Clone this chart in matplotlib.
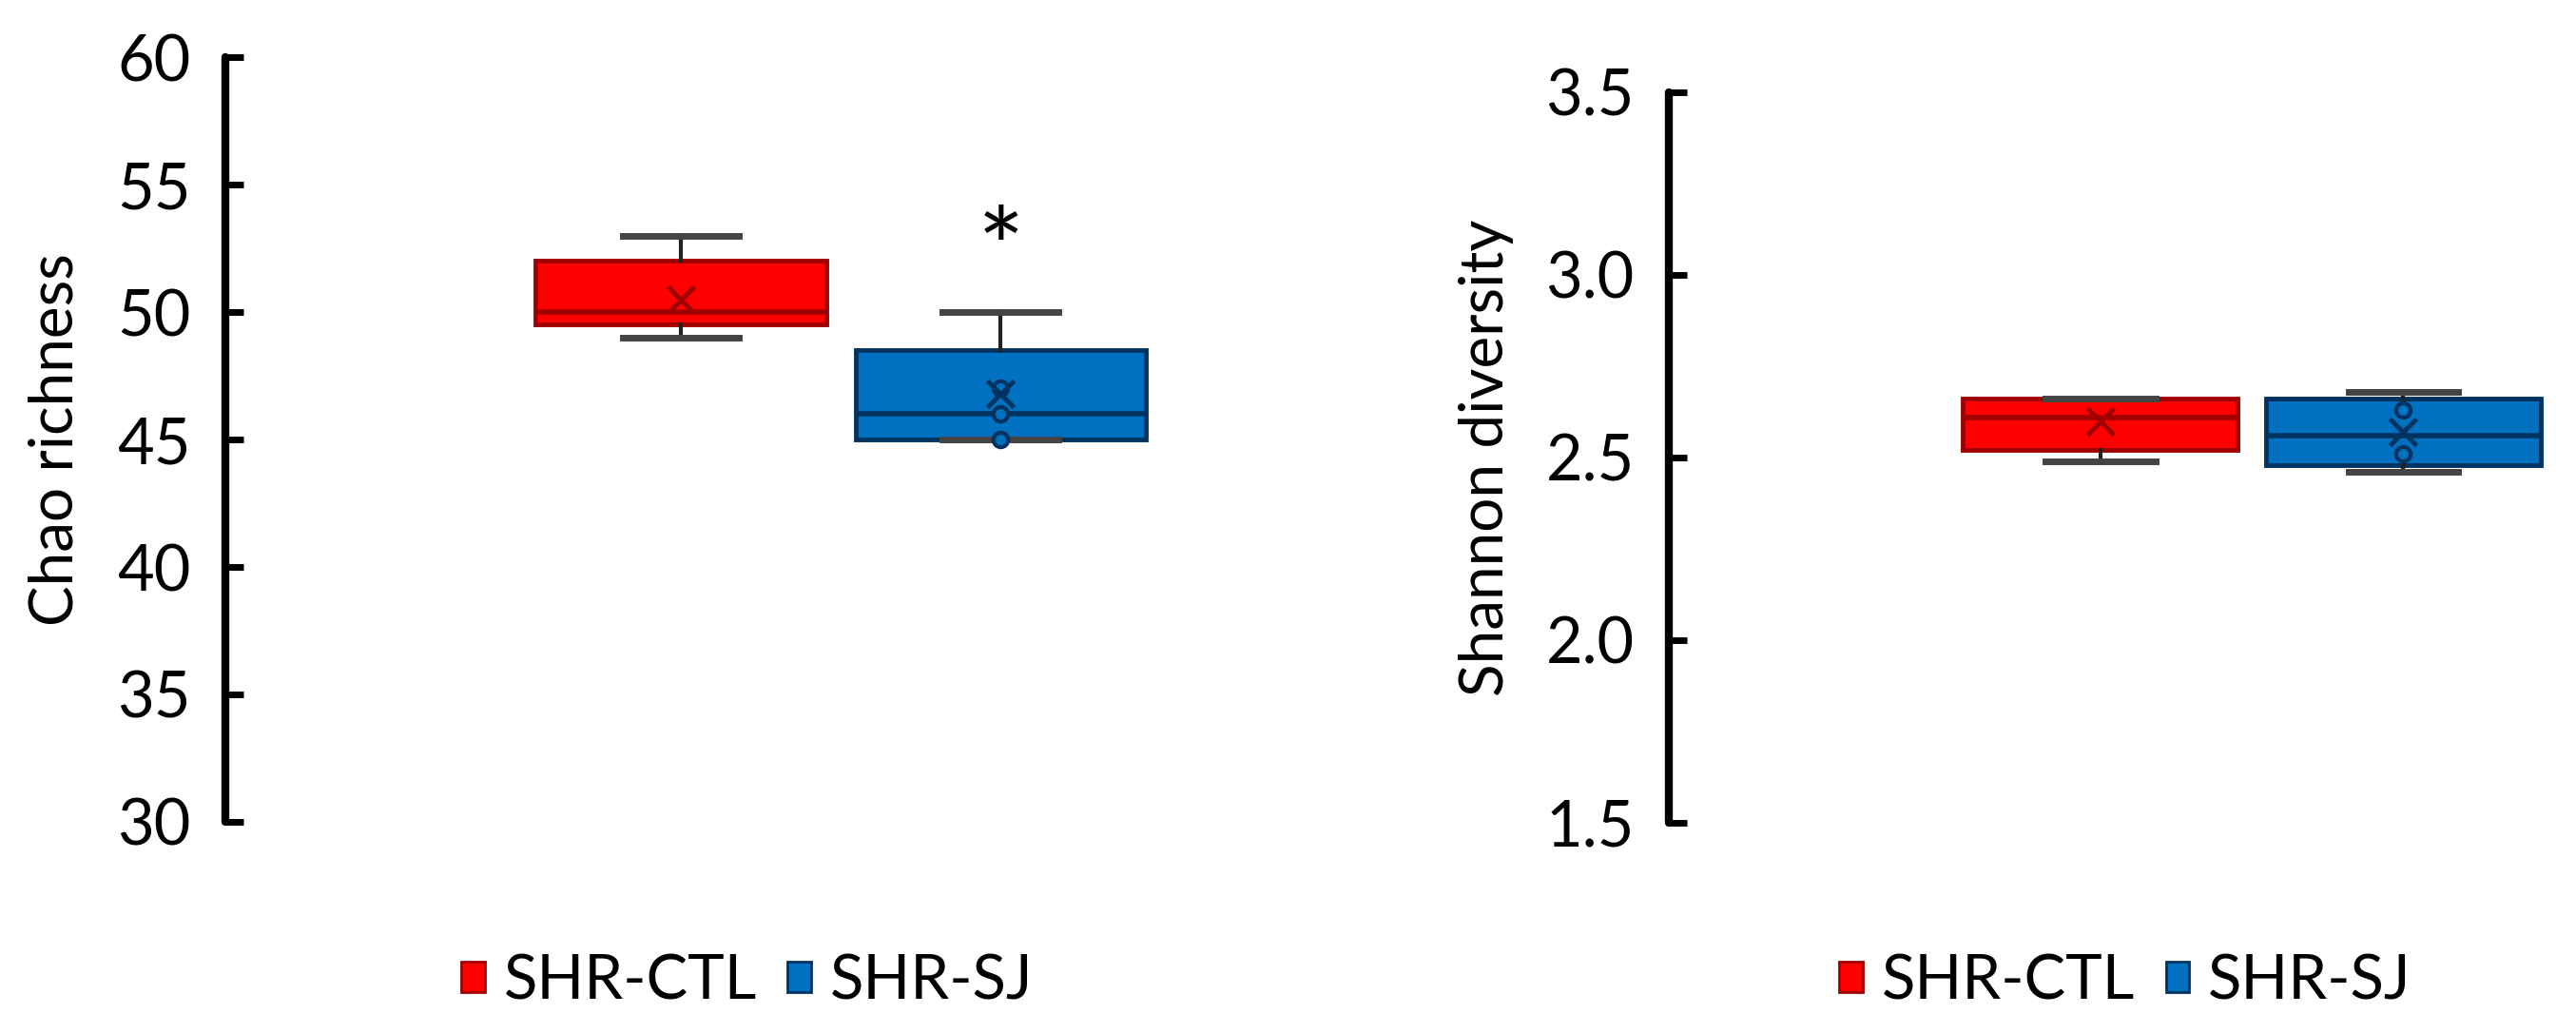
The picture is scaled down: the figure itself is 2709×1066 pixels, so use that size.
import numpy as np
import matplotlib
matplotlib.use("Agg")
import matplotlib.pyplot as plt
from matplotlib.patches import Patch

plt.rcParams['font.family'] = ['Lato', 'DejaVu Sans']

# --- DATA ---
groups = ["SHR-CTL", "SHR-SJ"]

# Chao richness: whisker low, Q1, median, Q3, whisker high, mean
chao_whislo = [49.0, 45.0]
chao_q1 = [49.5, 45.0]
chao_med = [50.0, 46.0]
chao_q3 = [52.0, 48.5]
chao_whishi = [53.0, 50.0]
chao_mean = [50.5, 46.8]
chao_points = [[], [47.0, 46.0, 45.0]]
chao_ticks = [30, 35, 40, 45, 50, 55, 60]

# Shannon diversity
shan_whislo = [2.49, 2.46]
shan_q1 = [2.52, 2.48]
shan_med = [2.61, 2.56]
shan_q3 = [2.66, 2.66]
shan_whishi = [2.66, 2.68]
shan_mean = [2.60, 2.57]
shan_points = [[], [2.63, 2.51]]
shan_ticks = [1.5, 2.0, 2.5, 3.0, 3.5]

star_label = "*"
star_y = 52.2

# --- STYLE ---
fills = ["#FF0000", "#0070C0"]
edges = ["#A00000", "#00335F"]
positions = [0.37, 0.63]
box_w = 0.236


def draw_panel(ax, whislo, q1, med, q3, whishi, mean, pts):
    for i in range(len(groups)):
        st = [dict(whislo=whislo[i], q1=q1[i], med=med[i], q3=q3[i],
                   whishi=whishi[i], fliers=[], label=groups[i])]
        ax.bxp(st, positions=[positions[i]], widths=box_w,
               capwidths=box_w * 0.4, patch_artist=True, showfliers=False,
               boxprops=dict(facecolor=fills[i], edgecolor=edges[i], linewidth=3.5),
               medianprops=dict(color=edges[i], linewidth=4),
               whiskerprops=dict(color="#222222", linewidth=3),
               capprops=dict(color="#444444", linewidth=5),
               manage_ticks=False, zorder=2)
        if pts[i]:
            ax.plot([positions[i]] * len(pts[i]), pts[i], 'o', ms=11,
                    mfc=fills[i], mec=edges[i], mew=3, zorder=4)
        ax.plot(positions[i], mean[i], 'x', ms=20, mew=3.5, color=edges[i], zorder=5)


def style_axis(ax, ticks, fmt):
    for s in ["top", "right", "bottom"]:
        ax.spines[s].set_visible(False)
    ax.spines["left"].set_linewidth(6)
    ax.spines["left"].set_capstyle("round")
    ax.set_yticks(ticks)
    ax.set_yticklabels([fmt.format(t) for t in ticks])
    ax.set_ylim(ticks[0], ticks[-1])
    ax.tick_params(axis="y", direction="in", length=14, width=5,
                   labelsize=48, pad=26)
    ax.set_xticks([])


fig = plt.figure(figsize=(27.09, 10.66), dpi=100)

ax1 = fig.add_axes([0.0875, 0.1895, 0.4777, 0.7542])
draw_panel(ax1, chao_whislo, chao_q1, chao_med, chao_q3, chao_whishi, chao_mean, chao_points)
style_axis(ax1, chao_ticks, "{:d}")
ax1.set_xlim(0, 1)
ax1.set_ylabel("Chao richness", fontsize=46, labelpad=26)
ax1.text(positions[1], star_y, star_label, ha="center", va="center", fontsize=84)

ax2 = fig.add_axes([0.6478, 0.1886, 0.3522, 0.7205])
draw_panel(ax2, shan_whislo, shan_q1, shan_med, shan_q3, shan_whishi, shan_mean, shan_points)
style_axis(ax2, shan_ticks, "{:.1f}")
ax2.set_xlim(0, 0.778)
ax2.set_ylabel("Shannon diversity", fontsize=46, labelpad=24)
for a in (ax1, ax2):
    for lab in a.get_yticklabels():
        lab.set_clip_on(False)

handles = [Patch(facecolor=fills[i], edgecolor=edges[i], linewidth=2, label=groups[i])
           for i in range(len(groups))]
for cx in (0.290, 0.825):
    fig.legend(handles=handles, loc="center", bbox_to_anchor=(cx, 0.032), ncol=2,
               frameon=False, fontsize=47, handlelength=0.38, handleheight=0.38,
               handletextpad=0.3, columnspacing=0.5, borderpad=0)

fig.savefig("out.png", dpi=100)
